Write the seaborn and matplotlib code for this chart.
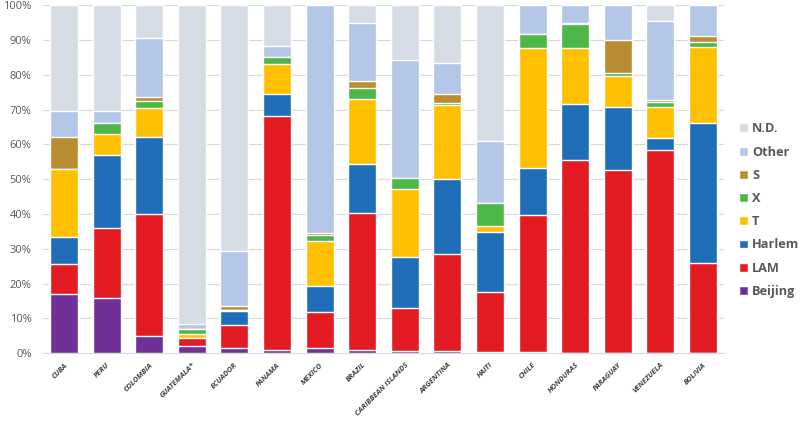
import numpy as np
import pandas as pd
import matplotlib
matplotlib.use("Agg")
import matplotlib.pyplot as plt
import seaborn as sns

# -----------------------------
# DATA (percent of isolates per lineage)
# -----------------------------
countries = ["CUBA", "PERU", "COLOMBIA", "GUATEMALA*", "ECUADOR", "PANAMA", "MEXICO",
             "BRAZIL", "CARIBBEAN ISLANDS", "ARGENTINA", "HAITI", "CHILE", "HONDURAS",
             "PARAGUAY", "VENEZUELA", "BOLIVIA"]

beijing = [17, 16, 5, 2, 1.5, 1, 1.5, 1, 0.5, 0.5, 0.3, 0.3, 0.2, 0.2, 0.1, 0]
lam = [8.5, 20, 35, 2.3, 6.5, 67, 10.3, 39.4, 12.4, 28, 17.4, 39.4, 55.3, 52.4, 58.3, 25.8]
harlem = [8, 21, 22, 0.2, 4.2, 6.4, 7.5, 14, 14.8, 21.5, 17, 13.6, 16.1, 18.2, 3.5, 40.2]
t_fam = [19.5, 6, 8.5, 1, 0.3, 8.7, 12.9, 18.6, 19.4, 21.2, 1.9, 34.4, 16.1, 8.8, 8.9, 22]
x_fam = [0, 3, 2, 1.5, 0, 2.1, 1.8, 3.3, 3.3, 0.8, 6.5, 3.9, 6.8, 1, 1.3, 1.3]
s_fam = [9, 0, 1, 0, 1, 0, 0.4, 1.9, 0, 2.4, 0, 0, 0.4, 9.4, 0.6, 1.8]
other = [7.5, 3.5, 17, 1.5, 16, 3.1, 65.6, 16.7, 33.8, 9, 17.9, 8.4, 5.1, 10, 22.8, 8.9]

layers = ["Beijing", "LAM", "Harlem", "T", "X", "S", "Other", "N.D."]
colors = {"Beijing": "#6f3198", "LAM": "#e31c23", "Harlem": "#1f6eb7", "T": "#ffc000",
          "X": "#4db848", "S": "#b98e32", "Other": "#b4c7e7", "N.D.": "#d6dce5"}

df = pd.DataFrame({"Country": countries, "Beijing": beijing, "LAM": lam, "Harlem": harlem,
                   "T": t_fam, "X": x_fam, "S": s_fam, "Other": other})
df["N.D."] = 100 - df[layers[:-1]].sum(axis=1)

# cumulative tops, drawn from the top layer down so lower layers cover them
cum = df[layers].cumsum(axis=1)

# -----------------------------
# PLOT
# -----------------------------
sns.set_style("white")
plt.rcParams["font.family"] = ["Open Sans", "DejaVu Sans"]

fig = plt.figure(figsize=(8, 4.22), dpi=100)
ax = fig.add_axes([0.0534, 0.163, 0.852, 0.825])

for layer in layers[::-1]:
    sns.barplot(x=df["Country"], y=cum[layer], color=colors[layer], width=0.66,
                saturation=1, label=layer, ax=ax, zorder=3)

ax.set_xlim(-0.5, len(countries) - 0.5)
ax.set_ylim(0, 100)
ax.set_yticks(np.arange(0, 101, 10))
ax.set_yticklabels([f"{v}%" for v in range(0, 101, 10)], fontsize=8, color="#595959")
ax.yaxis.grid(True, color="#d9d9d9", lw=0.8)
ax.set_axisbelow(True)
ax.tick_params(axis="both", length=0)
ax.tick_params(axis="y", pad=8)
ax.tick_params(axis="x", pad=6)

ax.set_xticks(range(len(countries)))
ax.set_xticklabels(countries, rotation=45, ha="right", rotation_mode="anchor",
                   fontsize=5.4, fontweight="bold", fontstyle="italic", color="#404040")
ax.set_xlabel("")
ax.set_ylabel("")

for side in ["top", "right", "left"]:
    ax.spines[side].set_visible(False)
ax.spines["bottom"].set_color("#d9d9d9")

ax.legend(loc="center left", bbox_to_anchor=(1.0144, 0.411), frameon=False,
          prop={"weight": "bold", "size": 9.2}, labelcolor="#595959",
          handlelength=0.7, handleheight=0.7, handletextpad=0.3, labelspacing=0.8,
          borderaxespad=0)

fig.savefig("out.png", dpi=100)
